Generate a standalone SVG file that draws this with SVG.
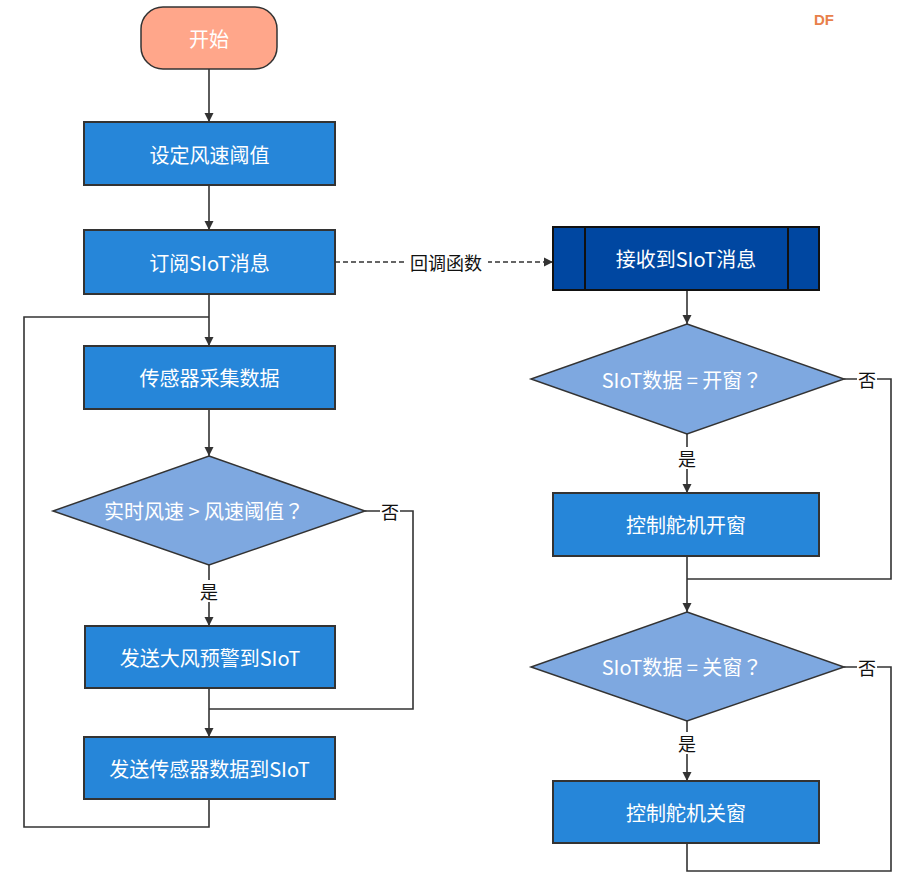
<svg xmlns="http://www.w3.org/2000/svg" width="921" height="877" viewBox="0 0 921 877">
<style>
.box{fill:#2686D9;stroke:#333;stroke-width:2}
.dia{fill:#7EA8E0;stroke:#333;stroke-width:1.5}
.t{font-family:"Noto Sans CJK SC","Liberation Sans",sans-serif;font-size:20px;fill:#fff;text-anchor:middle;dominant-baseline:central}
.q{font-family:"Noto Sans CJK TC","Noto Sans CJK JP",sans-serif}
.lbl{font-family:"Noto Sans CJK SC","Liberation Sans",sans-serif;font-size:18px;fill:#111;text-anchor:middle;dominant-baseline:central}
.ln{fill:none;stroke:#333;stroke-width:1.6}
.lb{fill:#fff}
</style>
<defs>
<marker id="ah" viewBox="0 0 10 10" refX="10" refY="5" markerWidth="9" markerHeight="10" markerUnits="userSpaceOnUse" orient="auto">
<path d="M0,0 L10,5 L0,10 Z" fill="#333"/>
</marker>
</defs>
<rect width="921" height="877" fill="#fff"/>
<text x="824" y="19" font-family="Liberation Sans,sans-serif" font-size="15" font-weight="bold" fill="#E8804A" text-anchor="middle" dominant-baseline="central">DF</text>

<g id="connectors">
<path class="ln" d="M209,69 V122" marker-end="url(#ah)"/>
<path class="ln" d="M209,185 V230" marker-end="url(#ah)"/>
<path class="ln" d="M209,294 V346" marker-end="url(#ah)"/>
<path class="ln" d="M209,409 V456" marker-end="url(#ah)"/>
<path class="ln" d="M209,565 V626" marker-end="url(#ah)"/>
<path class="ln" d="M209,688 V737" marker-end="url(#ah)"/>
<path class="ln" d="M365,511 H413 V709 H209"/>
<path class="ln" d="M209,799 V827 H24 V317 H209"/>
<path class="ln" d="M335,262 H553" stroke-dasharray="5,3" marker-end="url(#ah)"/>
<path class="ln" d="M687,290 V324" marker-end="url(#ah)"/>
<path class="ln" d="M687,434 V493" marker-end="url(#ah)"/>
<path class="ln" d="M844,379 H891 V579 H687"/>
<path class="ln" d="M687,556 V612" marker-end="url(#ah)"/>
<path class="ln" d="M687,721 V781" marker-end="url(#ah)"/>
<path class="ln" d="M844,667 H891 V871 H687 V843"/>
<rect class="lb" x="404" y="250" width="84" height="24"/>
<text class="lbl" x="446" y="262">回调函数</text>
<rect class="lb" x="199" y="580" width="20" height="22"/>
<text class="lbl" x="209" y="591">是</text>
<rect class="lb" x="380" y="500" width="20" height="22"/>
<text class="lbl" x="390" y="511">否</text>
<rect class="lb" x="677" y="447" width="20" height="22"/>
<text class="lbl" x="687" y="458">是</text>
<rect class="lb" x="857" y="368" width="20" height="22"/>
<text class="lbl" x="867" y="379">否</text>
<rect class="lb" x="677" y="732" width="20" height="22"/>
<text class="lbl" x="687" y="743">是</text>
<rect class="lb" x="857" y="656" width="20" height="22"/>
<text class="lbl" x="867" y="667">否</text>
</g>

<g id="start">
<rect x="141" y="7" width="136" height="62" rx="22" fill="#FFA68A" stroke="#333" stroke-width="1.5"/>
<text class="t" x="209" y="38">开始</text>
</g>
<g id="set-threshold">
<rect class="box" x="84" y="122" width="251" height="63"/>
<text class="t" x="209.5" y="154">设定风速阈值</text>
</g>
<g id="subscribe">
<rect class="box" x="84" y="230" width="251" height="64"/>
<text class="t" x="209.5" y="262">订阅SIoT消息</text>
</g>
<g id="collect">
<rect class="box" x="84" y="346" width="251" height="63"/>
<text class="t" x="209.5" y="377">传感器采集数据</text>
</g>
<g id="decision-wind">
<polygon class="dia" points="209,456 365,511 209,565 53,511"/>
<text class="t" x="204" y="510">实时风速 &gt; 风速阈值<tspan class="q">？</tspan></text>
</g>
<g id="send-alert">
<rect class="box" x="85" y="626" width="250" height="62"/>
<text class="t" x="210" y="657">发送大风预警到SIoT</text>
</g>
<g id="send-data">
<rect class="box" x="84" y="737" width="251" height="62"/>
<text class="t" x="209.5" y="768">发送传感器数据到SIoT</text>
</g>
<g id="receive">
<rect x="553" y="227" width="266" height="63" fill="#0047A1" stroke="#111" stroke-width="2"/>
<path d="M585,227 V290 M788,227 V290" stroke="#111" stroke-width="2"/>
<text class="t" x="686" y="258">接收到SIoT消息</text>
</g>
<g id="decision-open">
<polygon class="dia" points="687,324 844,379 687,434 531,379"/>
<text class="t" x="682" y="379">SIoT数据 = 开窗<tspan class="q">？</tspan></text>
</g>
<g id="open-window">
<rect class="box" x="553" y="493" width="266" height="63"/>
<text class="t" x="686" y="524">控制舵机开窗</text>
</g>
<g id="decision-close">
<polygon class="dia" points="687,612 844,667 687,721 531,667"/>
<text class="t" x="682" y="666">SIoT数据 = 关窗<tspan class="q">？</tspan></text>
</g>
<g id="close-window">
<rect class="box" x="553" y="781" width="266" height="62"/>
<text class="t" x="686" y="812">控制舵机关窗</text>
</g>
</svg>
